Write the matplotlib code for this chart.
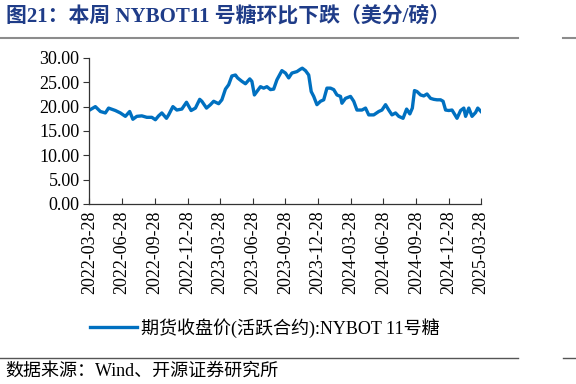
import matplotlib as mpl
import matplotlib.pyplot as plt
import matplotlib.dates as mdates
import pandas as pd
from matplotlib.lines import Line2D

mpl.rcParams["font.family"] = ["Liberation Serif", "Noto Sans CJK SC"]
mpl.rcParams["axes.unicode_minus"] = False

# 期货收盘价(活跃合约):NYBOT 11号糖, 美分/磅
dates = [
    "2022-03-29", "2022-04-14", "2022-04-28", "2022-05-12", "2022-05-21", "2022-06-09",
    "2022-06-23", "2022-07-07", "2022-07-19", "2022-07-28", "2022-08-08", "2022-08-22",
    "2022-09-05", "2022-09-19", "2022-09-29", "2022-10-08", "2022-10-17", "2022-10-30",
    "2022-11-05", "2022-11-17", "2022-11-28", "2022-12-12", "2022-12-25", "2023-01-07",
    "2023-01-19", "2023-01-31", "2023-02-06", "2023-02-19", "2023-03-02", "2023-03-11",
    "2023-03-25", "2023-04-03", "2023-04-13", "2023-04-22", "2023-05-01", "2023-05-11",
    "2023-05-17", "2023-05-29", "2023-06-08", "2023-06-20", "2023-06-26", "2023-07-03",
    "2023-07-10", "2023-07-20", "2023-07-29", "2023-08-07", "2023-08-17", "2023-08-26",
    "2023-09-04", "2023-09-18", "2023-09-28", "2023-10-07", "2023-10-16", "2023-10-30",
    "2023-11-09", "2023-11-14", "2023-11-23", "2023-12-02", "2023-12-09", "2023-12-16",
    "2023-12-25", "2024-01-04", "2024-01-13", "2024-01-22", "2024-02-01", "2024-02-10",
    "2024-02-19", "2024-02-29", "2024-03-04", "2024-03-14", "2024-03-28", "2024-04-06",
    "2024-04-15", "2024-04-29", "2024-05-09", "2024-05-18", "2024-06-01", "2024-06-15",
    "2024-06-24", "2024-07-04", "2024-07-13", "2024-07-22", "2024-08-01", "2024-08-10",
    "2024-08-22", "2024-09-01", "2024-09-10", "2024-09-17", "2024-09-23", "2024-09-30",
    "2024-10-10", "2024-10-19", "2024-10-28", "2024-11-07", "2024-11-16", "2024-11-25",
    "2024-12-05", "2024-12-12", "2024-12-19", "2024-12-28", "2025-01-06", "2025-01-11",
    "2025-01-20", "2025-01-30", "2025-02-08", "2025-02-13", "2025-02-22", "2025-03-03",
    "2025-03-13", "2025-03-19", "2025-03-28",
]
prices = [
    19.3, 20.0, 19.0, 18.7, 19.7, 19.2,
    18.7, 18.0, 19.0, 17.4, 18.0, 18.1,
    17.8, 17.8, 17.3, 18.1, 18.7, 17.6,
    18.3, 20.0, 19.3, 19.5, 20.9, 19.2,
    19.7, 21.5, 21.1, 19.7, 20.4, 21.1,
    20.6, 21.4, 23.6, 24.5, 26.3, 26.5,
    25.9, 25.2, 24.7, 25.7, 25.2, 22.4,
    23.1, 24.1, 23.8, 24.1, 23.5, 23.6,
    25.5, 27.4, 26.9, 25.9, 26.9, 27.2,
    27.7, 27.9, 27.4, 26.5, 23.1, 22.1,
    20.4, 21.1, 21.4, 23.8, 23.8, 23.5,
    22.4, 22.1, 20.7, 21.7, 22.1, 21.1,
    19.3, 19.3, 19.7, 18.3, 18.3, 19.0,
    19.3, 20.4, 19.3, 18.3, 18.7, 18.0,
    17.6, 19.5, 18.5, 19.7, 23.3, 23.1,
    22.4, 22.2, 22.6, 21.7, 21.5, 21.4,
    21.4, 21.1, 19.3, 19.2, 19.3, 18.7,
    17.6, 19.2, 19.7, 18.0, 19.7, 18.0,
    18.8, 19.7, 19.0,
]
tick_dates = ["2022-03-28", "2022-06-28", "2022-09-28", "2022-12-28",
              "2023-03-28", "2023-06-28", "2023-09-28", "2023-12-28",
              "2024-03-28", "2024-06-28", "2024-09-28", "2024-12-28",
              "2025-03-28"]

series_label = "期货收盘价(活跃合约):NYBOT 11号糖"
title = "图21：本周 NYBOT11 号糖环比下跌（美分/磅）"
source = "数据来源：Wind、开源证券研究所"

x = pd.to_datetime(dates)
ticks = pd.to_datetime(tick_dates)

fig = plt.figure(figsize=(5.76, 3.84), dpi=100)
ax = fig.add_axes([0.155, 0.469, 0.68, 0.38])

ax.plot(x, prices, color="#0070C0", lw=2.4, solid_joinstyle="round")

ax.set_ylim(0, 30)
ax.set_yticks(range(0, 31, 5))
ax.yaxis.set_major_formatter(mpl.ticker.FormatStrFormatter("%.2f"))
ax.set_xlim(ticks[0], ticks[-1])
ax.set_xticks(ticks)
ax.xaxis.set_major_formatter(mdates.DateFormatter("%Y-%m-%d"))
plt.setp(ax.get_xticklabels(), rotation=90)

for s in ["top", "right"]:
    ax.spines[s].set_visible(False)
for s in ["left", "bottom"]:
    ax.spines[s].set_color("#333333")
    ax.spines[s].set_linewidth(0.9)
ax.tick_params(axis="x", direction="in", length=4, labelsize=13, colors="#333333",
               labelcolor="black", pad=5)
ax.tick_params(axis="y", direction="out", length=4, labelsize=13, colors="#333333",
               labelcolor="black", pad=3)

handle = Line2D([], [], color="#0070C0", lw=2.4)
fig.legend([handle], [series_label], loc="center", bbox_to_anchor=(0.46, 0.146),
           frameon=False, fontsize=13, handlelength=2.6, handletextpad=0.2)

fig.text(0.01, 0.955, title, fontsize=15, fontweight="bold", color="#1F3C88",
         va="center", ha="left")
fig.add_artist(Line2D([0.0, 0.9], [0.9, 0.9], color="#8c8c8c", lw=1.5))
fig.add_artist(Line2D([0.978, 1.0], [0.9, 0.9], color="#8c8c8c", lw=1.5))
fig.add_artist(Line2D([0.0, 0.9], [0.068, 0.068], color="#555555", lw=1.0))
fig.add_artist(Line2D([0.978, 1.0], [0.068, 0.068], color="#555555", lw=1.0))
fig.text(0.01, 0.033, source, fontsize=13, color="black", va="center", ha="left")

fig.savefig("out.png", dpi=100)
